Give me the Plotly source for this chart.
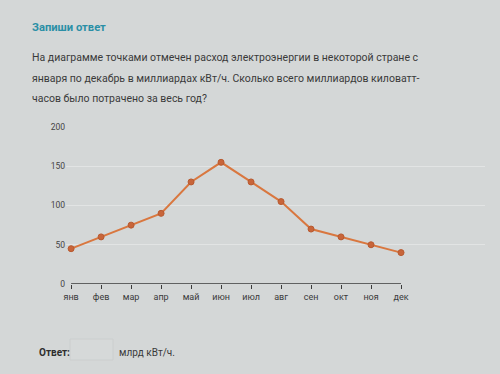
import plotly.graph_objects as go

months = ["янв", "фев", "мар", "апр", "май", "июн", "июл", "авг", "сен", "окт", "ноя", "дек"]
values = [45, 60, 75, 90, 130, 155, 130, 105, 70, 60, 50, 40]
y_ticks = [0, 50, 100, 150, 200]

W, H = 500, 374
L, R, T, B = 66, 15, 127, 90
pw, ph = W - L - R, H - T - B

def px(x):
    return (x - L) / pw

def py(y):
    return 1 - (y - T) / ph

bg = "#d4d7d7"
fig = go.Figure()
fig.add_trace(go.Scatter(
    x=list(range(len(months))), y=values, mode="lines+markers",
    line=dict(color="#d9773f", width=2),
    marker=dict(size=6, color="#c8653a", line=dict(color="#b85a30", width=1)),
    cliponaxis=False, hoverinfo="skip"))

# axis line from first to last month
fig.add_shape(type="line", xref="x", yref="y", x0=0, x1=len(months) - 1, y0=0, y1=0,
              line=dict(color="#3a3a3a", width=1.5))
# answer input box
fig.add_shape(type="rect", xref="paper", yref="paper", x0=px(70), x1=px(113),
              y0=py(360), y1=py(339), line=dict(color="#cbcece", width=1),
              fillcolor="#d6d9d9", layer="below")

font = "Roboto, Open Sans, sans-serif"
ann = []
ann.append(dict(text="<b>Запиши ответ</b>", x=px(30), y=py(27), xref="paper", yref="paper",
                xanchor="left", yanchor="middle", showarrow=False,
                font=dict(family=font, size=11.2, color="#2a8fa6")))
lines = ["На диаграмме точками отмечен расход электроэнергии в некоторой стране с",
         "января по декабрь в миллиардах кВт/ч. Сколько всего миллиардов киловатт-",
         "часов было потрачено за весь год?"]
for i, t in enumerate(lines):
    ann.append(dict(text=t, x=px(30), y=py(58 + 20 * i), xref="paper", yref="paper",
                    xanchor="left", yanchor="middle", showarrow=False,
                    font=dict(family=font, size=10.5, color="#3a3a3a")))
ann.append(dict(text="<b>Ответ:</b>", x=px(37), y=py(352), xref="paper", yref="paper",
                xanchor="left", yanchor="middle", showarrow=False,
                font=dict(family=font, size=10, color="#2e2e2e")))
ann.append(dict(text="млрд кВт/ч.", x=px(117), y=py(352), xref="paper", yref="paper",
                xanchor="left", yanchor="middle", showarrow=False,
                font=dict(family=font, size=10, color="#3a3a3a")))

fig.update_layout(
    width=W, height=H, margin=dict(l=L, r=R, t=T, b=B),
    paper_bgcolor=bg, plot_bgcolor=bg, showlegend=False,
    annotations=ann,
    xaxis=dict(range=[-0.17, 13.8], tickmode="array", tickvals=list(range(len(months))),
               ticktext=months, showgrid=False, zeroline=False, showline=False,
               ticks="outside", ticklen=4, tickcolor="#3a3a3a", tickwidth=1,
               tickfont=dict(family=font, size=9, color="#3a3a3a")),
    yaxis=dict(range=[0, 200], tickvals=y_ticks, showgrid=True, gridcolor="#e2e4e4",
               gridwidth=1, zeroline=False, showline=False, ticks="",
               tickfont=dict(family=font, size=8.5, color="#444444")),
)
fig.write_html("out.html", config={"displayModeBar": False},
               post_script="document.body.style.margin='0';document.body.style.background='%s';" % bg)
